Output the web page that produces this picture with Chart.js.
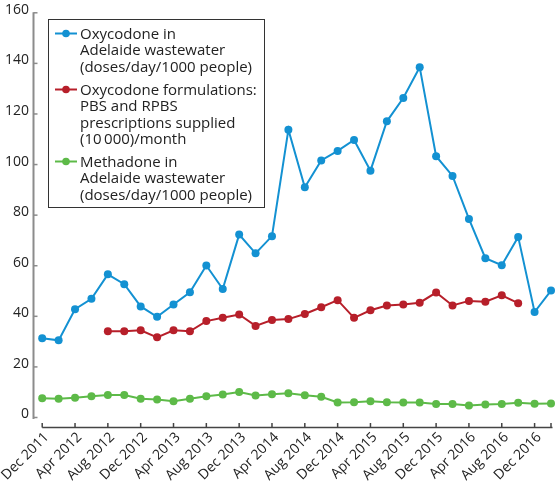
<!DOCTYPE html>
<html><head><meta charset="utf-8">
<script src="https://cdn.jsdelivr.net/npm/chart.js@4.4.0/dist/chart.umd.min.js"></script>
<style>html,body{margin:0;padding:0;background:#fff;overflow:hidden}</style>
</head><body>
<canvas id="c" width="555" height="486"></canvas>
<script>
const categories = ["Dec 2011","Feb 2012","Apr 2012","Jun 2012","Aug 2012","Oct 2012","Dec 2012","Feb 2013","Apr 2013","Jun 2013","Aug 2013","Oct 2013","Dec 2013","Feb 2014","Apr 2014","Jun 2014","Aug 2014","Oct 2014","Dec 2014","Feb 2015","Apr 2015","Jun 2015","Aug 2015","Oct 2015","Dec 2015","Feb 2016","Apr 2016","Jun 2016","Aug 2016","Oct 2016","Dec 2016","Feb 2017"];
const oxyWastewater = [31.3,30.5,42.8,46.9,56.6,52.7,43.9,39.8,44.7,49.5,60.1,50.8,72.3,64.9,71.7,113.8,91.0,101.6,105.4,109.7,97.6,117.1,126.3,138.5,103.3,95.5,78.5,63.0,60.2,71.4,41.7,50.2];
const oxyPrescriptions = [null,null,null,null,34.1,34.1,34.5,31.7,34.5,34.1,38.1,39.4,40.7,36.2,38.5,38.9,40.9,43.6,46.4,39.4,42.4,44.3,44.7,45.4,49.4,44.3,46.1,45.8,48.3,45.2,null,null];
const methadone = [7.6,7.4,7.8,8.4,8.9,8.9,7.4,7.1,6.4,7.4,8.4,9.1,10.1,8.7,9.2,9.6,8.8,8.2,5.9,6.0,6.4,6.0,5.9,5.9,5.3,5.3,4.7,5.1,5.3,5.8,5.4,5.5];
const yTickValues = [0,20,40,60,80,100,120,140,160];
const seriesNames = [
  ["Oxycodone in","Adelaide wastewater","(doses/day/1000 people)"],
  ["Oxycodone formulations:","PBS and RPBS","prescriptions supplied","(10\u2009000)/month"],
  ["Methadone in","Adelaide wastewater","(doses/day/1000 people)"]
];
const colors = ["#1391d2","#b71f2a","#5dba48"];

const toXY = arr => arr.map((v,i)=>({x:i,y:v}));
const FONT = "'Open Sans', sans-serif";
Chart.defaults.font.family = FONT;

const axesPlugin = {
  id:'axes',
  beforeDatasetsDraw(chart){
    const ctx = chart.ctx, xs = chart.scales.x, ys = chart.scales.y;
    ctx.save();
    const ax = ys.right - 0.5;
    ctx.strokeStyle = '#8c8c8c'; ctx.lineWidth = 2;
    ctx.beginPath(); ctx.moveTo(ax, ys.getPixelForValue(160)-0.5); ctx.lineTo(ax, ys.getPixelForValue(0)+1.5); ctx.stroke();
    ctx.lineWidth = 1.5;
    yTickValues.forEach(v=>{ const y = ys.getPixelForValue(v); ctx.beginPath(); ctx.moveTo(ax, y); ctx.lineTo(ax+4, y); ctx.stroke(); });
    const ay = xs.top + 0.5;
    ctx.strokeStyle = '#444'; ctx.lineWidth = 1.5;
    const x0 = xs.getPixelForValue(0), x1 = xs.getPixelForValue(categories.length-1)+1.5;
    ctx.beginPath(); ctx.moveTo(x0, ay); ctx.lineTo(x1, ay); ctx.stroke();
    categories.forEach((c,i)=>{ if(i%2===0 || i===categories.length-1){ const x = xs.getPixelForValue(i); ctx.beginPath(); ctx.moveTo(x, ay); ctx.lineTo(x, ay-4.5); ctx.stroke(); }});
    ctx.restore();
  }
};

const legendPlugin = {
  id:'boxLegend',
  afterDraw(chart){
    const ctx = chart.ctx;
    ctx.save();
    ctx.strokeStyle = '#333'; ctx.lineWidth = 1;
    ctx.strokeRect(48.5, 19.5, 216, 188);
    ctx.font = "15px " + FONT;
    ctx.textBaseline = 'alphabetic';
    const baselines = [[38.5,55,71.5],[94.5,111,127.5,144],[166.5,183,199.5]];
    seriesNames.forEach((lines,k)=>{
      const ly = baselines[k][0] - 5;
      ctx.strokeStyle = colors[k]; ctx.lineWidth = 2;
      ctx.beginPath(); ctx.moveTo(55, ly); ctx.lineTo(77, ly); ctx.stroke();
      ctx.fillStyle = colors[k];
      ctx.beginPath(); ctx.arc(66, ly, 3.8, 0, Math.PI*2); ctx.fill();
      ctx.fillStyle = '#222';
      lines.forEach((t,j)=> ctx.fillText(t, 80, baselines[k][j]));
    });
    ctx.restore();
  }
};

const mk = (label, data, color) => ({
  label, data: toXY(data), borderColor: color, backgroundColor: color,
  borderWidth: 2, pointRadius: 4, pointHoverRadius: 4, pointBorderWidth: 0,
  pointBackgroundColor: color, tension: 0, spanGaps: false, clip: false
});

new Chart(document.getElementById('c'), {
  type: 'line',
  data: { datasets: [
    mk(seriesNames[0].join(' '), oxyWastewater, colors[0]),
    mk(seriesNames[1].join(' '), oxyPrescriptions, colors[1]),
    mk(seriesNames[2].join(' '), methadone, colors[2])
  ]},
  options: {
    responsive: false, animation: false,
    layout: { autoPadding: false, padding: { top: 12.8, right: 4, left: 0, bottom: 0 } },
    plugins: { legend: { display: false }, tooltip: { enabled: false } },
    scales: {
      x: {
        type: 'linear', min: -0.5, max: categories.length - 1,
        grid: { display: false, drawTicks: false }, border: { display: false },
        afterBuildTicks: s => { s.ticks = categories.map((c,i)=>i).filter(i=>i%2===0).map(v=>({value:v})); },
        afterFit: s => { s.height = 59; s.paddingLeft = 0; s.paddingRight = 0; s.paddingTop = 0; s.paddingBottom = 0; },
        ticks: { autoSkip: false, maxRotation: 45, minRotation: 45, padding: 2, labelOffset: 4.5,
          font: { size: 14 }, color: '#222', callback: v => categories[v] }
      },
      y: {
        type: 'linear', min: -3.76, max: 160,
        grid: { display: false, drawTicks: false }, border: { display: false },
        afterBuildTicks: s => { s.ticks = yTickValues.map(v=>({value:v})); },
        afterFit: s => { s.width = 34; s.paddingTop = 0; s.paddingBottom = 0; s.paddingLeft = 0; s.paddingRight = 0; },
        ticks: { padding: 5, labelOffset: -3, font: { size: 14 }, color: '#222' }
      }
    }
  },
  plugins: [axesPlugin, legendPlugin]
});
</script>
</body></html>
